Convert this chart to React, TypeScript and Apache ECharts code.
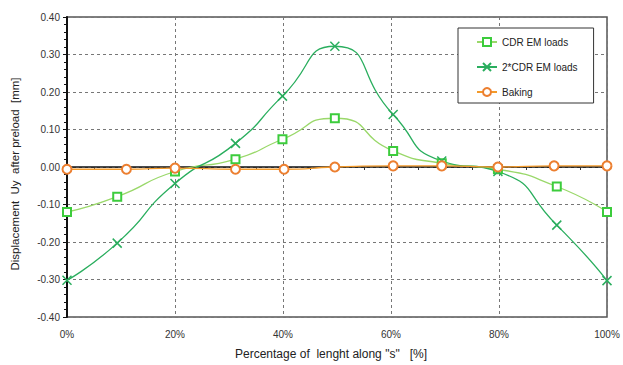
import React, { useEffect, useRef } from "react";
import * as echarts from "echarts";

// Data
const xCdr = [0, 9.3, 20, 31.2, 39.9, 49.6, 60.4, 69.4, 79.8, 90.7, 100];
const cdrLoads = [-0.12, -0.079, -0.012, 0.021, 0.074, 0.13, 0.043, 0.01, -0.006, -0.052, -0.12];
const cdr2Loads = [-0.302, -0.203, -0.044, 0.063, 0.189, 0.322, 0.14, 0.016, -0.012, -0.155, -0.303];
const xBaking = [0, 11, 20, 31.2, 40.2, 49.6, 60.4, 69.4, 79.8, 90.2, 100];
const baking = [-0.006, -0.006, -0.003, -0.006, -0.006, 0.0, 0.003, 0.003, 0.0, 0.003, 0.003];
const seriesNames = ["CDR EM loads", "2*CDR EM loads", "Baking"];
const zeroLineTicks = [5, 15, 25, 35, 45, 55, 65, 75, 85, 95];

const FONT = "'Liberation Sans', Arial, sans-serif";

export default function App() {
  const ref = useRef<HTMLDivElement>(null);
  useEffect(() => {
    if (!ref.current) return;
    const chart = echarts.init(ref.current, undefined, { renderer: "svg" });
    const pair = (xs: number[], ys: number[]) => xs.map((x, i) => [x, ys[i]]);
    const xMark = "path://M0,0L10,10M10,0L0,10";
    const SMOOTH = 0.62;
    chart.setOption({
      animation: false,
      backgroundColor: "#fff",
      textStyle: { fontFamily: FONT },
      grid: {
        left: 67,
        right: 16,
        top: 17,
        bottom: 48,
        show: true,
        borderColor: "#555",
        borderWidth: 1.5,
        backgroundColor: "transparent",
      },
      xAxis: [
        {
          type: "value",
          min: 0,
          max: 100,
          interval: 20,
          axisLine: { show: false, onZero: false },
          axisTick: { show: false },
          axisLabel: {
            formatter: "{value}%",
            color: "#333",
            fontSize: 10,
            margin: 12,
            fontFamily: FONT,
          },
          splitLine: { show: true, lineStyle: { color: "#777", type: [3, 3], width: 1 } },
        },
        {
          type: "value",
          min: 0,
          max: 100,
          interval: 20,
          position: "bottom",
          axisLine: { show: true, onZero: true, lineStyle: { color: "#111", width: 1.5 } },
          axisTick: { show: true, customValues: zeroLineTicks, length: 3, lineStyle: { color: "#333" } },
          axisLabel: { show: false },
          splitLine: { show: false },
        },
      ],
      yAxis: {
        type: "value",
        min: -0.4,
        max: 0.4,
        interval: 0.1,
        axisLine: { show: true, onZero: false, lineStyle: { color: "#111", width: 2 } },
        axisTick: { show: true, length: 4, lineStyle: { color: "#111" } },
        minorTick: { show: true, splitNumber: 5, length: 3, lineStyle: { color: "#111" } },
        axisLabel: {
          formatter: (v: number) => v.toFixed(2),
          color: "#333",
          fontSize: 10,
          margin: 7,
          fontFamily: FONT,
        },
        splitLine: { show: true, lineStyle: { color: "#777", type: [3, 3], width: 1 } },
      },
      legend: {
        orient: "vertical",
        left: 458,
        top: 28,
        padding: [9, 16, 6, 18],
        itemGap: 15,
        itemWidth: 20,
        itemHeight: 10,
        backgroundColor: "#fff",
        borderColor: "#333",
        borderWidth: 1,
        textStyle: { fontSize: 10, color: "#222", fontFamily: FONT },
        data: seriesNames,
      },
      graphic: [
        {
          type: "text",
          x: 15,
          y: 174,
          rotation: Math.PI / 2,
          style: {
            text: "Displacement  Uy  after preload  [mm]",
            fontSize: 11.5,
            fill: "#222",
            align: "center",
            verticalAlign: "middle",
            fontFamily: FONT,
          },
        },
        {
          type: "text",
          x: 331,
          y: 354,
          style: {
            text: 'Percentage of  lenght along "s"   [%]',
            fontSize: 12,
            fill: "#222",
            align: "center",
            verticalAlign: "middle",
            fontFamily: FONT,
          },
        },
      ],
      series: [
        {
          name: seriesNames[0],
          type: "line",
          xAxisIndex: 0,
          smooth: SMOOTH,
          data: pair(xCdr, cdrLoads),
          symbol: "emptyRect",
          symbolSize: 8,
          lineStyle: { color: "#9ad86a", width: 1.3 },
          itemStyle: { color: "#3ccc3c", borderColor: "#3ccc3c", borderWidth: 1.5 },
          z: 3,
        },
        {
          name: seriesNames[1],
          type: "line",
          xAxisIndex: 0,
          smooth: SMOOTH,
          data: pair(xCdr, cdr2Loads),
          symbol: xMark,
          symbolSize: 9,
          lineStyle: { color: "#2aae5e", width: 1.3 },
          itemStyle: { color: "#2aae5e", borderColor: "#2aae5e", borderWidth: 1.5 },
          z: 3,
        },
        {
          name: seriesNames[2],
          type: "line",
          xAxisIndex: 0,
          smooth: SMOOTH,
          data: pair(xBaking, baking),
          symbol: "emptyCircle",
          symbolSize: 9,
          lineStyle: { color: "#f39a2a", width: 1.3 },
          itemStyle: { color: "#ec7f30", borderColor: "#ec7f30", borderWidth: 1.3 },
          z: 4,
        },
      ],
    });
    return () => chart.dispose();
  }, []);
  return (
    <div
      ref={ref}
      style={{ position: "fixed", left: 0, top: 0, width: 623, height: 365 }}
    />
  );
}
